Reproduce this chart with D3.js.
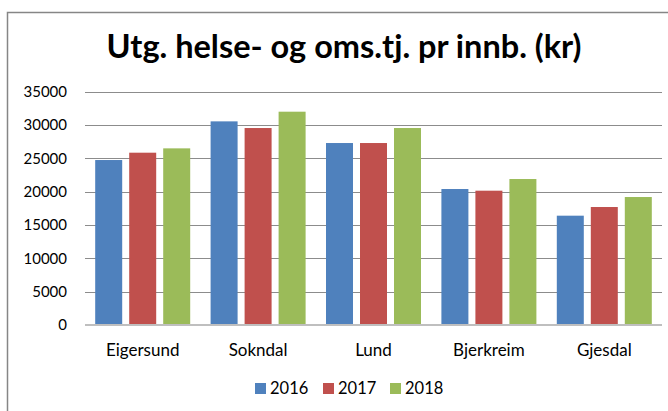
<!DOCTYPE html>
<html><head><meta charset="utf-8">
<script src="https://cdn.jsdelivr.net/npm/d3@7/dist/d3.min.js"></script>
<style>body{margin:0;background:#fff}svg{display:block}</style>
</head><body>
<svg id="c" width="668" height="411"></svg>
<script>
const categories = ["Eigersund", "Sokndal", "Lund", "Bjerkreim", "Gjesdal"];
const seriesNames = ["2016", "2017", "2018"];
const values2016 = [24750, 30550, 27300, 20400, 16400];
const values2017 = [25850, 29550, 27300, 20150, 17700];
const values2018 = [26500, 32000, 29550, 21900, 19200];
const yTicks = [0, 5000, 10000, 15000, 20000, 25000, 30000, 35000];
const colors = ["#4F81BD", "#C0504D", "#9BBB59"];
const title = "Utg. helse- og oms.tj. pr innb. (kr)";

const seriesValues = [values2016, values2017, values2018];
const font = "Lato, 'Open Sans', sans-serif";
const svg = d3.select("#c");

svg.append("rect").attr("x", 7.5).attr("y", 12.5).attr("width", 700).attr("height", 450)
  .attr("fill", "#fff").attr("stroke", "#868686").attr("stroke-width", 1.5);

const pLeft = 85, pRight = 662, pTop = 91.7, pBottom = 325;
const x0 = d3.scaleBand().domain(categories).range([pLeft, pRight]).paddingInner(0).paddingOuter(0);
const x1 = d3.scaleBand().domain(seriesNames).range([0, x0.bandwidth()]).paddingInner(0.206).paddingOuter(0.3);
const y = d3.scaleLinear().domain([0, 35000]).range([pBottom, pTop]);

// gridlines
svg.append("g").selectAll("line").data(yTicks.filter(d => d > 0)).join("line")
  .attr("x1", pLeft).attr("x2", pRight).attr("y1", d => Math.round(y(d)) + 0.5).attr("y2", d => Math.round(y(d)) + 0.5)
  .attr("stroke", "#8c8c8c").attr("stroke-width", 1);

// y labels
svg.append("g").selectAll("text").data(yTicks).join("text")
  .attr("x", 67).attr("y", d => y(d)).attr("dy", "0.35em")
  .attr("text-anchor", "end").attr("font-family", font).attr("font-size", 15).attr("fill", "#000")
  .text(d => d);

// bars
const groups = svg.append("g").selectAll("g").data(categories).join("g")
  .attr("transform", c => `translate(${x0(c)},0)`);
groups.selectAll("rect").data((c, i) => seriesNames.map((s, j) => ({s, v: seriesValues[j][i], j}))).join("rect")
  .attr("x", d => x1(d.s)).attr("width", x1.bandwidth())
  .attr("y", d => y(d.v)).attr("height", d => pBottom - y(d.v))
  .attr("fill", d => colors[d.j]);

// baseline
svg.append("line").attr("x1", pLeft).attr("x2", pRight).attr("y1", pBottom).attr("y2", pBottom)
  .attr("stroke", "#bfbfbf").attr("stroke-width", 2);

// category labels
svg.append("g").selectAll("text").data(categories).join("text")
  .attr("x", c => x0(c) + x0.bandwidth() / 2).attr("y", 356)
  .attr("text-anchor", "middle").attr("font-family", font).attr("font-size", 17).attr("fill", "#000")
  .text(c => c);

// title
svg.append("text").attr("x", 344).attr("y", 58).attr("text-anchor", "middle")
  .attr("font-family", font).attr("font-weight", "bold").attr("font-size", 32.5).attr("fill", "#000")
  .text(title);

// legend
const legX = [255, 323, 390];
const lg = svg.append("g").selectAll("g").data(seriesNames).join("g")
  .attr("transform", (d, i) => `translate(${legX[i]},383)`);
lg.append("rect").attr("width", 11).attr("height", 11).attr("fill", (d, i) => colors[i]);
lg.append("text").attr("x", 15).attr("y", 5.5).attr("dy", "0.35em")
  .attr("font-family", font).attr("font-size", 16.5).attr("fill", "#000").text(d => d);
</script>
</body></html>
